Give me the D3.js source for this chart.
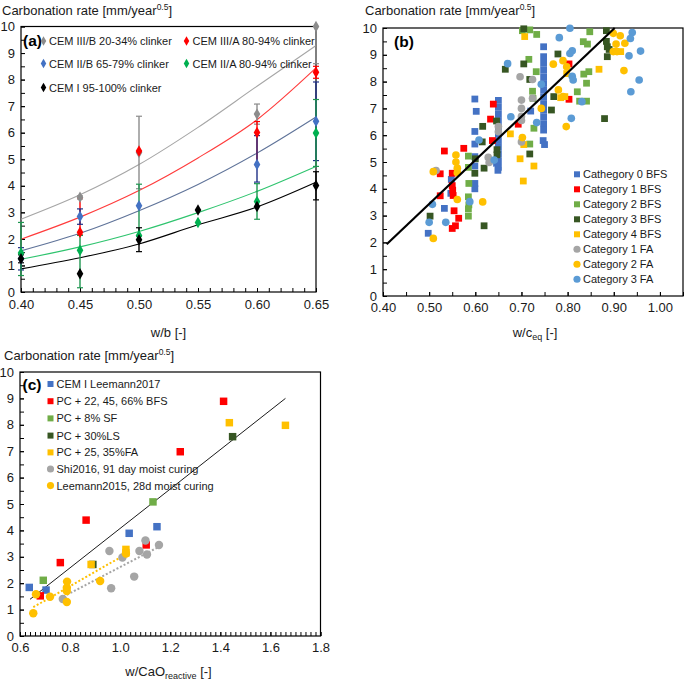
<!DOCTYPE html>
<html><head><meta charset="utf-8">
<script src="https://cdn.jsdelivr.net/npm/d3@7"></script>
<style>body{margin:0;background:#fff}svg{display:block}</style>
</head><body>
<script>
// ---------------- Panel (a) data ----------------
const wb = [0.40, 0.45, 0.50, 0.55, 0.60, 0.65];
const aTicksX = [0.40, 0.45, 0.50, 0.55, 0.60, 0.65];
const cemIIIB    = [null, 3.57, 5.25, null, 6.70, 10.0];
const cemIIIB_lo = [null, 3.50, 3.89, null, 6.32, 8.60];
const cemIIIB_hi = [null, 3.62, 6.62, null, 7.08, 10.0];
const cemIIIA    = [null, 2.25, 5.31, null, 6.01, 8.28];
const cemIIIA_lo = [null, 2.15, null, null, 4.80, 8.05];
const cemIIIA_hi = [null, 3.55, null, null, 6.42, 8.50];
const cemIIB     = [1.25, 2.84, 3.25, null, 4.80, 6.43];
const cemIIB_lo  = [0.83, 2.55, null, null, 4.14, 4.95];
const cemIIB_hi  = [1.67, 3.13, null, null, 5.89, 7.91];
const cemIIA     = [1.47, 1.57, 2.13, 2.62, 3.41, 5.99];
const cemIIA_lo  = [0.62, 0.16, 2.10, null, 2.74, 4.73];
const cemIIA_hi  = [2.62, 2.13, 4.06, null, 4.08, 7.25];
const cemI       = [1.25, 0.69, 1.97, 3.09, 3.22, 4.01];
const cemI_lo    = [1.10, null, 1.52, null, null, 3.47];
const cemI_hi    = [1.40, null, 2.42, null, null, 4.53];
// fitted curves
const fitIIIB = [2.74, 3.66, 4.80, 6.20, 7.75, 9.28];
const fitIIIA = [1.99, 2.82, 3.82, 5.05, 6.49, 8.44];
const fitIIB  = [1.55, 2.21, 3.06, 4.05, 5.23, 6.59];
const fitIIA  = [1.23, 1.70, 2.28, 2.99, 3.79, 4.73];
const fitI    = [0.87, 1.29, 1.81, 2.53, 3.20, 4.13];
const aNames = ["CEM III/B 20-34% clinker","CEM III/A 80-94% clinker","CEM II/B 65-79% clinker","CEM II/A 80-94% clinker","CEM I 95-100% clinker"];

// ---------------- Panel (b) data ----------------
const bTicksX = [0.40,0.50,0.60,0.70,0.80,0.90,1.00];
const cat0BFS = [[0.498,2.34],[0.533,3.27],[0.547,3.83],[0.548,4.35],[0.599,7.35],[0.602,6.89],[0.599,6.14],[0.599,5.67],[0.599,5.20],[0.599,4.85],[0.599,4.20],[0.599,4.00],[0.646,4.95],[0.649,4.69],
  [0.65,7.30],[0.65,7.05],[0.65,6.80],[0.65,6.55],[0.65,6.30],[0.65,6.05],[0.65,5.80],[0.65,5.55],[0.65,5.30],[0.65,5.05],[0.65,4.80],
  [0.748,9.30],[0.748,8.93],[0.748,8.68],[0.748,8.43],[0.748,8.18],[0.748,7.93],[0.748,7.68],[0.748,7.43],[0.748,7.18],[0.748,6.93],[0.748,6.68],[0.748,6.43],[0.748,6.19],[0.747,5.80],[0.750,5.65],[0.720,6.90]];
const cat1BFS = [[0.533,5.41],[0.524,4.56],[0.524,3.74],[0.550,4.58],[0.550,4.12],[0.551,3.95],[0.552,3.75],[0.554,3.18],[0.564,2.90],[0.557,2.62],[0.550,2.52],[0.575,5.51],[0.639,7.16],[0.633,6.60],[0.637,5.80],[0.693,6.41],[0.803,8.66],[0.803,7.34]];
const cat2BFS = [[0.585,5.22],[0.585,4.80],[0.586,4.20],[0.585,3.70],[0.586,3.40],[0.585,3.25],[0.585,2.98],[0.702,9.90],[0.718,9.93],[0.733,9.76],[0.716,8.83],[0.732,8.37],[0.724,7.64],[0.725,7.37],[0.727,6.26],[0.718,5.67],[0.834,9.49],[0.848,9.86],[0.843,9.40],[0.846,8.37],[0.835,8.28],[0.841,7.94],[0.821,7.62],[0.826,7.27],[0.841,7.27]];
const cat3BFS = [[0.502,2.98],[0.619,2.62],[0.616,6.33],[0.615,5.75],[0.599,4.58],[0.619,4.77],[0.600,5.12],[0.646,6.53],[0.647,5.46],[0.647,5.27],[0.665,8.46],[0.705,8.66],[0.718,8.08],[0.718,5.30],[0.705,9.97],[0.779,9.03],[0.770,7.44],[0.765,6.94],[0.884,9.90],[0.884,9.50],[0.886,9.30],[0.886,8.93],[0.890,9.20],[0.880,6.62]];
const cat4BFS = [[0.707,9.68],[0.676,6.05],[0.697,5.12],[0.704,4.29],[0.727,4.85],[0.705,5.65],[0.868,8.46],[0.794,7.44],[0.785,7.40],[0.798,8.30],[0.903,9.12],[0.915,9.12]];
const cat1FA  = [[0.515,4.68],[0.628,5.17],[0.630,4.98],[0.650,6.32],[0.650,6.13],[0.697,8.18],[0.724,8.08],[0.700,7.31],[0.724,7.38],[0.700,7.00],[0.700,6.70],[0.700,6.55],[0.700,5.75]];
const cat2FA  = [[0.509,4.64],[0.509,2.15],[0.558,5.26],[0.558,5.00],[0.561,4.77],[0.561,4.60],[0.561,3.60],[0.616,3.51],[0.702,5.91],[0.743,7.00],[0.769,8.65],[0.790,8.78],[0.798,8.55],[0.780,7.69],[0.790,7.44],[0.797,6.32],[0.899,9.80],[0.914,9.71],[0.905,9.40],[0.924,9.43],[0.899,9.12],[0.907,9.12],[0.922,8.41]];
const cat3FA  = [[0.670,8.67],[0.608,5.82],[0.641,5.07],[0.588,3.52],[0.536,2.75],[0.500,2.75],[0.507,3.42],[0.677,6.69],[0.733,6.47],[0.805,9.99],[0.782,9.64],[0.810,9.15],[0.805,9.05],[0.743,7.90],[0.810,8.20],[0.812,8.06],[0.831,7.25],[0.808,6.63],[0.940,9.83],[0.936,9.61],[0.958,9.14],[0.933,8.96],[0.955,8.06],[0.937,7.62]];
const bFit = [[0.408,1.93],[0.902,10.0]];
const bNames = ["Cathegory 0 BFS","Category 1 BFS","Category 2 BFS","Category 3 BFS","Category 4 BFS","Category 1 FA","Category 2 FA","Category 3 FA"];

// ---------------- Panel (c) data ----------------
const cTicksX = [0.6,0.8,1.0,1.2,1.4,1.6,1.8];
const cemILeemann = [[0.637,1.84],[0.704,1.74],[1.036,3.89],[1.147,4.14]];
const pcBFS = [[0.681,1.52],[0.761,2.78],[0.864,4.39],[1.104,3.45],[1.240,6.98],[1.413,8.89]];
const pcSF  = [[0.693,2.11],[1.131,5.08]];
const pcLS  = [[0.891,2.71],[1.449,7.55]];
const pcFA  = [[0.884,2.71],[1.023,3.28],[1.023,3.15],[1.436,8.08],[1.660,7.98]];
const shi2016 = [[0.771,1.40],[0.957,3.22],[0.964,1.81],[1.009,2.97],[1.056,2.25],[1.077,3.22],[1.101,3.62],[1.107,3.09],[1.155,3.45]];
const leemann2015 = [[0.653,0.86],[0.664,1.58],[0.720,1.49],[0.788,2.06],[0.787,1.83],[0.787,1.70],[0.787,1.29],[0.920,2.08],[1.023,3.12]];
const cFitAll = [[0.64,1.39],[1.66,9.0]];
const cFitLeemann = [[0.653,1.09],[1.023,3.10]];
const cFitShi = [[0.773,1.49],[1.155,3.38]];
const cNames = ["CEM I Leemann2017","PC + 22, 45, 66% BFS","PC + 8% SF","PC + 30%LS","PC + 25, 35%FA","Shi2016, 91 day moist curing","Leemann2015, 28d moist curing"];

// ---------------- drawing ----------------
const FONT = "Arial, 'Liberation Sans', sans-serif";
const C = {blue:"#4472C4", red:"#FF0000", lgreen:"#70AD47", dgreen:"#375623", yellow:"#FFC000", gray:"#A5A5A5", lblue:"#5B9BD5"};
const svg = d3.select("body").append("svg").attr("width",685).attr("height",680)
  .attr("font-family", FONT);

function frame(x, y, xMinor, xMajor, xFmt, labelPad) {
  const x0 = x.range()[0], x1 = x.range()[1], y0 = y.range()[0], y1 = y.range()[1];
  const gx1 = svg.append("g").attr("transform",`translate(0,${y0})`)
    .call(d3.axisBottom(x).tickValues(xMinor).tickSize(-4).tickFormat(""));
  const gx2 = svg.append("g").attr("transform",`translate(0,${y0})`)
    .call(d3.axisBottom(x).tickValues(xMajor).tickSize(-4).tickPadding(labelPad).tickFormat(xFmt));
  const gy1 = svg.append("g").attr("transform",`translate(${x0},0)`)
    .call(d3.axisLeft(y).tickValues(d3.range(0, 10.01, 0.5)).tickSize(-4).tickFormat(""));
  const gy2 = svg.append("g").attr("transform",`translate(${x0},0)`)
    .call(d3.axisLeft(y).tickValues(d3.range(0, 11, 1)).tickSize(-4).tickPadding(6).tickFormat(d3.format("d")));
  [gx1,gx2,gy1,gy2].forEach(g => {
    g.select(".domain").remove();
    g.attr("font-family", FONT).attr("font-size", 13);
    g.selectAll("line").attr("stroke","#000");
    g.selectAll("text").attr("fill","#1a1a1a");
  });
  svg.append("rect").attr("x",x0).attr("y",y1).attr("width",x1-x0).attr("height",y0-y1)
    .attr("fill","none").attr("stroke","#000").attr("stroke-width",1.2);
}

function yTitle(xp, yp) {
  const t = svg.append("text").attr("x",xp).attr("y",yp).attr("font-size",13).attr("fill","#1a1a1a");
  t.append("tspan").text("Carbonation rate [mm/year");
  t.append("tspan").attr("font-size",8.5).attr("dy",-5).text("0.5");
  t.append("tspan").attr("dy",5).text("]");
}

// ===== Panel (a) =====
const xa = d3.scaleLinear().domain([0.40,0.65]).range([21,316]);
const ya = d3.scaleLinear().domain([0,10]).range([292,26.5]);
frame(xa, ya, d3.range(0.40,0.6501,0.01), aTicksX, d3.format(".2f"), 8);
yTitle(2, 15);
svg.append("text").attr("x",168.5).attr("y",337).attr("text-anchor","middle").attr("font-size",13).attr("fill","#1a1a1a").text("w/b [-]");

const aSeries = [
  {v:cemIIIB, lo:cemIIIB_lo, hi:cemIIIB_hi, fit:fitIIIB, mk:"#8C8C8C", err:"#8C8C8C", line:"#A6A6A6"},
  {v:cemIIIA, lo:cemIIIA_lo, hi:cemIIIA_hi, fit:fitIIIA, mk:"#FF0000", err:"#FF0000", line:"#FF3B3B"},
  {v:cemIIB,  lo:cemIIB_lo,  hi:cemIIB_hi,  fit:fitIIB,  mk:"#4472C4", err:"#1F2F86", line:"#5F7399"},
  {v:cemIIA,  lo:cemIIA_lo,  hi:cemIIA_hi,  fit:fitIIA,  mk:"#00B050", err:"#1E9650", line:"#2EC46E"},
  {v:cemI,    lo:cemI_lo,    hi:cemI_hi,    fit:fitI,    mk:"#000000", err:"#000000", line:"#000000"}
];
const lineA = d3.line().x(d=>xa(d[0])).y(d=>ya(d[1])).curve(d3.curveMonotoneX);
aSeries.forEach(s => {
  svg.append("path").attr("d", lineA(wb.map((w,i)=>[w,s.fit[i]]))).attr("fill","none").attr("stroke",s.line).attr("stroke-width",1.1);
});
aSeries.forEach(s => {
  wb.forEach((w,i) => {
    if (s.lo[i] == null) return;
    const xx = xa(w);
    svg.append("line").attr("x1",xx).attr("x2",xx).attr("y1",ya(s.lo[i])).attr("y2",ya(s.hi[i])).attr("stroke",s.err).attr("stroke-width",1.4);
    [s.lo[i], s.hi[i]].forEach(v => svg.append("line").attr("x1",xx-3).attr("x2",xx+3).attr("y1",ya(v)).attr("y2",ya(v)).attr("stroke",s.err).attr("stroke-width",1.2));
  });
});
const diamond = d3.symbol().type(d3.symbolDiamond).size(38);
aSeries.forEach(s => {
  wb.forEach((w,i) => {
    if (s.v[i] == null) return;
    svg.append("path").attr("d",diamond()).attr("transform",`translate(${xa(w)},${ya(s.v[i])})`).attr("fill",s.mk);
  });
});
// legend (a)
svg.append("text").attr("x",23).attr("y",46).attr("font-size",15.5).attr("font-weight","bold").text("(a)");
const aLeg = [[43.5,41,49,0],[186.5,41,192.5,1],[43.5,63.5,49,2],[186.5,63.5,192.5,3],[43.5,87.5,49,4]];
aLeg.forEach(([mx,my,tx,i]) => {
  svg.append("path").attr("d",d3.symbol().type(d3.symbolDiamond).size(26)()).attr("transform",`translate(${mx},${my})`).attr("fill",aSeries[i].mk);
  svg.append("text").attr("x",tx).attr("y",my+4).attr("font-size",11).attr("fill","#1a1a1a").text(aNames[i]);
});

// ===== Panel (b) =====
const xb = d3.scaleLinear().domain([0.40,1.05]).range([383,683]);
const yb = d3.scaleLinear().domain([0,10]).range([296,28]);
frame(xb, yb, d3.range(0.40,1.0501,0.05), bTicksX, d3.format(".2f"), 7);
yTitle(365, 15);
{
  const t = svg.append("text").attr("x",535).attr("y",337).attr("text-anchor","middle").attr("font-size",13).attr("fill","#1a1a1a");
  t.append("tspan").text("w/c");
  t.append("tspan").attr("font-size",9).attr("dy",3).text("eq");
  t.append("tspan").attr("dy",-3).text(" [-]");
}
const bSeries = [
  {d:cat0BFS, c:C.blue, sq:true},{d:cat1BFS, c:C.red, sq:true},{d:cat2BFS, c:C.lgreen, sq:true},
  {d:cat3BFS, c:C.dgreen, sq:true},{d:cat4BFS, c:C.yellow, sq:true},
  {d:cat1FA, c:C.gray, sq:false},{d:cat2FA, c:C.yellow, sq:false},{d:cat3FA, c:C.lblue, sq:false}
];
const sqB = d3.symbol().type(d3.symbolSquare).size(46);
const ciB = d3.symbol().type(d3.symbolCircle).size(46);
bSeries.forEach(s => {
  svg.append("g").selectAll("path").data(s.d).join("path")
    .attr("d", s.sq ? sqB() : ciB())
    .attr("transform", d => `translate(${xb(d[0])},${yb(d[1])})`)
    .attr("fill", s.c);
});
svg.append("path").attr("d", d3.line().x(d=>xb(d[0])).y(d=>yb(d[1]))(bFit)).attr("stroke","#000").attr("stroke-width",2.2).attr("fill","none");
svg.append("text").attr("x",394).attr("y",47).attr("font-size",15.5).attr("font-weight","bold").text("(b)");
const bLegY = [174.3,189.3,204.3,219.3,234.3,249.3,264.3,279.3];
bSeries.forEach((s,i) => {
  svg.append("path").attr("d", s.sq ? d3.symbol().type(d3.symbolSquare).size(36)() : d3.symbol().type(d3.symbolCircle).size(40)())
    .attr("transform",`translate(577,${bLegY[i]})`).attr("fill",s.c);
  svg.append("text").attr("x",583).attr("y",bLegY[i]+4).attr("font-size",11).attr("fill","#1a1a1a").text(bNames[i]);
});

// ===== Panel (c) =====
const xc = d3.scaleLinear().domain([0.6,1.8]).range([20,320.5]);
const yc = d3.scaleLinear().domain([0,10]).range([636,372]);
frame(xc, yc, d3.range(0.6,1.8001,0.02), cTicksX, d3.format(".1f"), 7);
yTitle(4, 360);
{
  const t = svg.append("text").attr("x",168.5).attr("y",676).attr("text-anchor","middle").attr("font-size",13).attr("fill","#1a1a1a");
  t.append("tspan").text("w/CaO");
  t.append("tspan").attr("font-size",9).attr("dy",3).text("reactive");
  t.append("tspan").attr("dy",-3).text(" [-]");
}
const lineC = d3.line().x(d=>xc(d[0])).y(d=>yc(d[1]));
svg.append("path").attr("d", lineC(cFitAll)).attr("stroke","#000").attr("stroke-width",0.9).attr("fill","none");
svg.append("path").attr("d", lineC(cFitLeemann)).attr("stroke",C.yellow).attr("stroke-width",2).attr("stroke-dasharray","2,2").attr("fill","none");
svg.append("path").attr("d", lineC(cFitShi)).attr("stroke",C.gray).attr("stroke-width",2).attr("stroke-dasharray","2,2").attr("fill","none");
const cSeries = [
  {d:cemILeemann, c:C.blue, sq:true},{d:pcBFS, c:C.red, sq:true},{d:pcSF, c:C.lgreen, sq:true},
  {d:pcLS, c:C.dgreen, sq:true},{d:pcFA, c:C.yellow, sq:true},
  {d:shi2016, c:C.gray, sq:false},{d:leemann2015, c:C.yellow, sq:false}
];
const sqC = d3.symbol().type(d3.symbolSquare).size(56);
const ciC = d3.symbol().type(d3.symbolCircle).size(56);
cSeries.forEach(s => {
  svg.append("g").selectAll("path").data(s.d).join("path")
    .attr("d", s.sq ? sqC() : ciC())
    .attr("transform", d => `translate(${xc(d[0])},${yc(d[1])})`)
    .attr("fill", s.c);
});
svg.append("text").attr("x",22.5).attr("y",389.5).attr("font-size",15.5).attr("font-weight","bold").text("(c)");
const cLegY = [384,401.2,418.4,435.6,452.4,469,485.6];
cSeries.forEach((s,i) => {
  svg.append("path").attr("d", s.sq ? d3.symbol().type(d3.symbolSquare).size(36)() : d3.symbol().type(d3.symbolCircle).size(40)())
    .attr("transform",`translate(50.5,${cLegY[i]})`).attr("fill",s.c);
  svg.append("text").attr("x",56.5).attr("y",cLegY[i]+4).attr("font-size",11).attr("fill","#1a1a1a").text(cNames[i]);
});
</script>
</body></html>
